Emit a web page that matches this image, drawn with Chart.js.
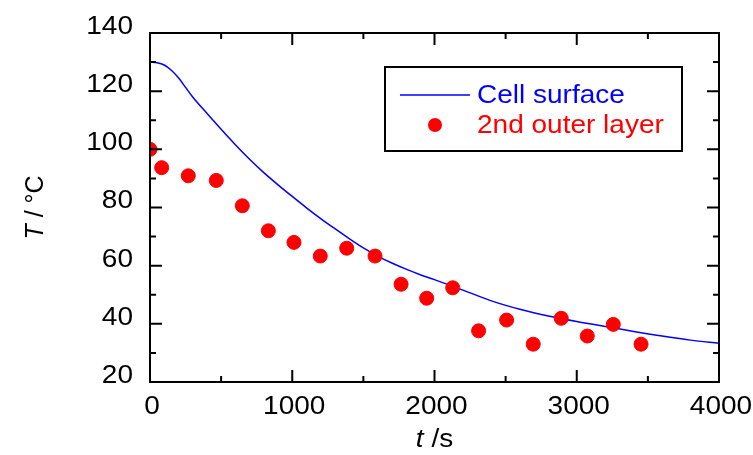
<!DOCTYPE html>
<html><head><meta charset="utf-8">
<script src="https://cdn.jsdelivr.net/npm/chart.js@4"></script>
<style>html,body{margin:0;padding:0;background:#fff}#wrap{width:753px;height:455px}</style>
</head><body><div id="wrap"><canvas id="c" width="753" height="455"></canvas></div>
<script>
// Simulated curve: Cell surface
const lineTimes = [0,50,100,150,200,250,300,400,500,600,700,800,900,1000,1100,1200,1300,1400,1500,1600,1700,1800,1900,2000,2200,2400,2600,2800,3000,3200,3400,3600,3800,4000];
const lineTemps = [130,129.8,129,127.2,124.6,121.3,118,112.4,106.9,101.6,96.6,92,87.8,83.8,79.9,76.2,72.7,69.3,66.1,63.3,60.9,58.8,56.9,55.2,51.6,47.9,45,42.7,40.8,39.1,37.4,35.8,34.4,33.3];
// Measured points: 2nd outer layer
const ptTimes = [0,82,269,466,649,832,1012,1197,1383,1582,1765,1945,2128,2310,2507,2694,2891,3074,3257,3452];
const ptTemps = [100,93.7,90.9,89.3,80.6,72,68,63.3,66,63.3,53.6,48.8,52.4,37.6,41.3,33,41.9,35.8,39.8,33];
const xTicks = [0,1000,2000,3000,4000];
const yTicks = [20,40,60,80,100,120,140];
const seriesNames = ['Cell surface','2nd outer layer'];
const FONT = 'Liberation Sans, Arial, sans-serif';
const SX = 1.12; // horizontal text stretch

const lineData = lineTimes.map((t,i)=>({x:t,y:lineTemps[i]}));
const ptData = ptTimes.map((t,i)=>({x:t,y:ptTemps[i]}));

function txt(ctx, s, x, y, align){
  ctx.save();
  ctx.translate(x, y);
  ctx.scale(SX, 1);
  ctx.textAlign = align || 'left';
  ctx.fillText(s, 0, 0);
  ctx.restore();
}

const decor = {
  id:'decor',
  afterDraw(chart){
    const ctx = chart.ctx, a = chart.chartArea, xs = chart.scales.x, ys = chart.scales.y;
    ctx.save();
    ctx.strokeStyle = '#000'; ctx.lineWidth = 2;
    ctx.strokeRect(a.left, a.top, a.right-a.left, a.bottom-a.top);
    ctx.beginPath();
    for (let v=0; v<=4000; v+=500){
      const p = xs.getPixelForValue(v), L = (v%1000===0)?12:6;
      ctx.moveTo(p,a.bottom); ctx.lineTo(p,a.bottom-L);
      ctx.moveTo(p,a.top); ctx.lineTo(p,a.top+L);
    }
    for (let v=20; v<=140; v+=10){
      const p = ys.getPixelForValue(v), L = (v%20===0)?12:6;
      ctx.moveTo(a.left,p); ctx.lineTo(a.left+L,p);
      ctx.moveTo(a.right,p); ctx.lineTo(a.right-L,p);
    }
    ctx.stroke();
    ctx.fillStyle = '#000'; ctx.textBaseline = 'middle';
    ctx.font = '25px '+FONT;
    // tick labels
    xTicks.forEach(v=>txt(ctx, String(v), xs.getPixelForValue(v)+2, 407, 'center'));
    yTicks.forEach(v=>txt(ctx, String(v), 133, ys.getPixelForValue(v)-6, 'right'));
    // x title
    ctx.font = 'italic 25px '+FONT;
    const t1 = 't', t2 = ' /s';
    const w1 = ctx.measureText(t1).width*SX;
    ctx.font = '25px '+FONT;
    const w2 = ctx.measureText(t2).width*SX;
    let sx = (a.left+a.right)/2 - (w1+w2)/2;
    ctx.font = 'italic 25px '+FONT; txt(ctx, t1, sx, 440);
    ctx.font = '25px '+FONT; txt(ctx, t2, sx+w1, 440);
    // y title
    ctx.save();
    ctx.translate(36, (a.top+a.bottom)/2);
    ctx.rotate(-Math.PI/2);
    ctx.font = 'italic 25px '+FONT;
    const y1 = 'T'; const yw1 = ctx.measureText(y1).width;
    ctx.font = '25px '+FONT;
    const y2 = ' / °C'; const yw2 = ctx.measureText(y2).width;
    let sy = -(yw1+yw2)/2;
    ctx.textAlign='left';
    ctx.font = 'italic 25px '+FONT; ctx.fillText(y1, sy, 0);
    ctx.font = '25px '+FONT; ctx.fillText(y2, sy+yw1, 0);
    ctx.restore();
    // legend
    ctx.lineWidth = 2; ctx.strokeStyle = '#000';
    ctx.strokeRect(385, 67, 297, 84);
    ctx.strokeStyle = '#0000ff'; ctx.lineWidth = 1.5;
    ctx.beginPath(); ctx.moveTo(400,95); ctx.lineTo(470,95); ctx.stroke();
    ctx.font = '25px '+FONT;
    ctx.fillStyle = '#0000ff'; txt(ctx, seriesNames[0], 477, 96);
    ctx.fillStyle = '#ff0000';
    ctx.beginPath(); ctx.arc(435,125,7,0,Math.PI*2); ctx.fill();
    txt(ctx, seriesNames[1], 477, 126);
    ctx.restore();
  }
};

new Chart(document.getElementById('c'), {
  type:'scatter',
  data:{datasets:[
    {label:seriesNames[0], data:lineData, showLine:true, borderColor:'#0000ff', borderWidth:1.5, pointRadius:0, cubicInterpolationMode:'monotone', fill:false, order:2},
    {label:seriesNames[1], data:ptData, showLine:false, backgroundColor:'#ff0000', borderColor:'#ff0000', pointRadius:7, pointHoverRadius:7, order:1}
  ]},
  options:{
    responsive:false, animation:false,
    layout:{padding:{top:33,right:34,left:0,bottom:0}},
    plugins:{legend:{display:false}, tooltip:{enabled:false}},
    scales:{
      x:{type:'linear', min:0, max:4000,
        afterBuildTicks(s){ s.ticks = xTicks.map(v=>({value:v})); },
        afterFit(s){ s.height = 73; },
        grid:{display:false}, border:{display:false},
        ticks:{display:false}},
      y:{type:'linear', min:20, max:140,
        afterBuildTicks(s){ s.ticks = yTicks.map(v=>({value:v})); },
        afterFit(s){ s.width = 150; },
        grid:{display:false}, border:{display:false},
        ticks:{display:false}}
    }
  },
  plugins:[decor]
});
</script></body></html>
